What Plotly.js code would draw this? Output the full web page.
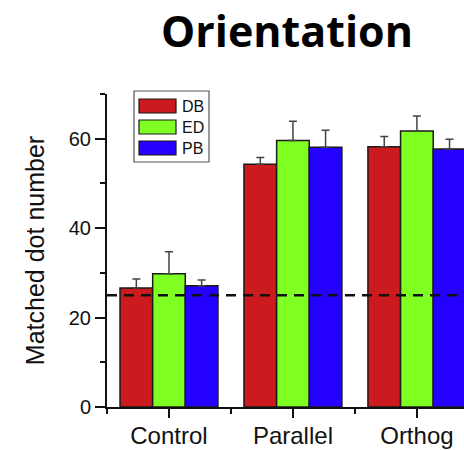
<!DOCTYPE html>
<html>
<head>
<meta charset="utf-8">
<script src="https://cdn.plot.ly/plotly-3.0.1.min.js"></script>
<style>
  html, body { margin: 0; padding: 0; background: #fff; }
  #chart { width: 464px; height: 450px; }
</style>
</head>
<body>
<div id="chart"></div>
<script>
// Conditions on the x axis
const categories = ['Control', 'Parallel', 'Orthog'];

// Groups, their mean matched dot counts and upper error (SEM)
const seriesNames = ['DB', 'ED', 'PB'];
const seriesColors = ['#CC1B1F', '#80FF22', '#2400FF'];
const dbMean = [26.6, 54.3, 58.2];
const dbErr  = [2.0, 1.5, 2.3];
const edMean = [29.8, 59.6, 61.7];
const edErr  = [4.9, 4.3, 3.4];
const pbMean = [27.1, 58.1, 57.7];
const pbErr  = [1.3, 3.8, 2.2];

// Chance level
const chanceLevel = 25;

const yTickVals = [0, 20, 40, 60];

const means = [dbMean, edMean, pbMean];
const errs = [dbErr, edErr, pbErr];
const xIdx = categories.map((_, i) => i);

const traces = seriesNames.map((name, s) => ({
  type: 'bar',
  name: name,
  x: xIdx,
  y: means[s],
  marker: { color: seriesColors[s], line: { color: '#1a1a1a', width: 1.5 } },
  error_y: {
    type: 'data',
    symmetric: false,
    array: errs[s],
    arrayminus: errs[s].map(() => 0),
    color: '#444',
    thickness: 1.5,
    width: 4
  },
  showlegend: false,
  hoverinfo: 'skip'
}));

// Hand-built legend box (paper coordinates) with wide swatches
const L = 107, R = 464, T = 94, B = 407;
const px = v => (v - L) / (R - L);
const py = v => (B - v) / (B - T);

const shapes = [
  {
    type: 'line', xref: 'paper', x0: 0, x1: 1, yref: 'y', y0: chanceLevel, y1: chanceLevel,
    line: { color: '#111', width: 2.5, dash: '10px,7px' }, layer: 'above'
  },
  {
    type: 'rect', xref: 'paper', yref: 'paper',
    x0: px(134), x1: px(209), y0: py(162), y1: py(91),
    line: { color: '#555', width: 1.2 }, fillcolor: '#fff', layer: 'above'
  }
];
const annotations = [];
seriesNames.forEach((name, s) => {
  const top = 99 + s * 21;
  shapes.push({
    type: 'rect', xref: 'paper', yref: 'paper',
    x0: px(139), x1: px(176), y0: py(top + 14), y1: py(top),
    fillcolor: seriesColors[s], line: { color: '#1a1a1a', width: 1.2 }, layer: 'above'
  });
  annotations.push({
    xref: 'paper', yref: 'paper', x: px(180), y: py(top + 7),
    xanchor: 'left', yanchor: 'middle', showarrow: false,
    text: name, font: { family: 'Liberation Sans, Arial, sans-serif', size: 16, color: '#111' }
  });
});

const layout = {
  width: 464,
  height: 450,
  margin: { l: L, r: 0, t: T, b: 450 - B, pad: 0 },
  paper_bgcolor: '#fff',
  plot_bgcolor: '#fff',
  barmode: 'group',
  bargap: 0.21,
  bargroupgap: 0,
  showlegend: false,
  font: { family: 'Liberation Sans, Arial, sans-serif', color: '#111' },
  title: {
    text: '<b>Orientation</b>',
    font: { family: 'Open Sans, sans-serif', size: 43, color: '#000' },
    xref: 'container', x: 0.6185, xanchor: 'center',
    yref: 'container', y: 1 - 32 / 450, yanchor: 'middle'
  },
  xaxis: {
    range: [-0.5, 2.38],
    tickmode: 'array',
    tickvals: xIdx,
    ticktext: categories,
    ticks: 'outside', ticklen: 9, tickwidth: 2, tickcolor: '#111',
    minor: { tick0: 0.5, dtick: 1, ticks: 'outside', ticklen: 5, tickwidth: 2, tickcolor: '#111' },
    showline: true, linecolor: '#111', linewidth: 2,
    showgrid: false, zeroline: false,
    tickfont: { size: 24, color: '#111' },
    ticklabelstandoff: -3,
    fixedrange: true
  },
  yaxis: {
    range: [0, 70],
    tickmode: 'array',
    tickvals: yTickVals,
    ticks: 'outside', ticklen: 10, tickwidth: 2, tickcolor: '#111',
    minor: { tick0: 0, dtick: 10, ticks: 'outside', ticklen: 5, tickwidth: 2, tickcolor: '#111' },
    showline: true, linecolor: '#111', linewidth: 2,
    showgrid: false, zeroline: false,
    tickfont: { size: 20, color: '#111' },
    title: { text: 'Matched dot number', font: { size: 25, color: '#111' }, standoff: 17 },
    fixedrange: true
  },
  shapes: shapes,
  annotations: annotations
};

Plotly.newPlot('chart', traces, layout, { displayModeBar: false, staticPlot: true });
</script>
</body>
</html>
